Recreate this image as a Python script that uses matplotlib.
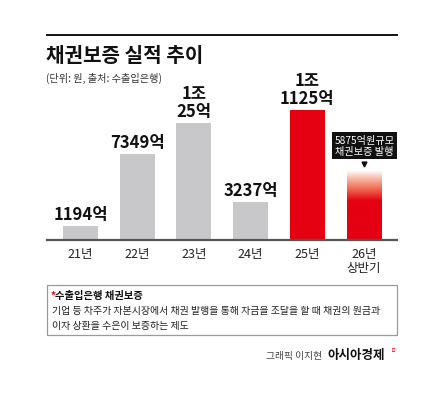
import numpy as np
import matplotlib.pyplot as plt
from matplotlib.colors import LinearSegmentedColormap
from matplotlib.patches import Rectangle
from matplotlib.lines import Line2D

plt.rcParams['font.family'] = ['Noto Sans CJK KR', 'DejaVu Sans']

# 데이터 (억원)
years = ["21년", "22년", "23년", "24년", "25년", "26년\n상반기"]
values = [1194, 7349, 10025, 3237, 11125, 5875]
value_labels = ["1194억", "7349억", "1조\n25억", "3237억", "1조\n1125억", ""]
note_text = "5875억원규모\n채권보증 발행"

W, H = 444, 402
fig = plt.figure(figsize=(W / 100, H / 100), dpi=100)
fig.patch.set_facecolor("white")


def fx(px):
    return px / W


def fy(py):
    return 1 - py / H


RED = "#e50012"
GRAY = "#c8c8ca"

# 상단 선 + 제목
fig.add_artist(Line2D([fx(47), fx(397)], [fy(36), fy(36)], color="#111111", lw=1.4))
fig.text(fx(46), fy(56), "채권보증 실적 추이", fontsize=14.5, fontweight="bold",
         va="center", ha="left", color="#111111")
fig.text(fx(46), fy(78), "(단위: 원, 출처: 수출입은행)", fontsize=7.3,
         va="center", ha="left", color="#333333")

# 막대 그래프
ax = fig.add_axes([fx(47), fy(241), fx(350), 141 / H])
scale = 0.0117  # px per 억
ax.set_ylim(0, 141 / scale)
step = 56.7
ax.set_xlim((47 - 80.5) / step, (397 - 80.5) / step)
x = np.arange(len(values))
bw = 35 / step

colors = [GRAY, GRAY, GRAY, GRAY, RED]
ax.bar(x[:5], values[:5], width=bw, color=colors, zorder=2)

# 26년 상반기: 아래는 진한 빨강, 위로 갈수록 흐려지는 막대
cmap = LinearSegmentedColormap.from_list("fade", [RED, "#ee5a45", "#f6a590", "#fff6f3"])
t = np.linspace(0, 1, 300).reshape(-1, 1)
grad = np.clip((t - 0.57) / 0.43, 0, 1)
ax.imshow(grad, cmap=cmap, vmin=0, vmax=1, origin="lower", aspect="auto",
          extent=[x[5] - bw / 2, x[5] + bw / 2, 0, values[5]], zorder=2)

for xi, v, lab in zip(x, values, value_labels):
    if lab:
        ax.text(xi, v + 250, lab, ha="center", va="bottom", fontsize=12,
                fontweight="bold", color="#111111", linespacing=1.0)

# 말풍선
ny = values[5] + 2200
ax.text(x[5] + 0.01, ny, note_text, ha="center", va="center", color="white",
        fontsize=7.3, linespacing=1.2,
        bbox=dict(boxstyle="square,pad=0.22", fc="#111111", ec="none"))
ax.plot([x[5]], [values[5] + 620], marker="v", color="#111111", markersize=3.5,
        zorder=3)

ax.set_xticks(x)
ax.set_xticklabels(years, fontsize=9, color="#222222", linespacing=1.15)
ax.tick_params(axis="x", length=0, pad=5)
ax.set_yticks([])
for s in ["top", "left", "right"]:
    ax.spines[s].set_visible(False)
ax.spines["bottom"].set_color("#555555")
ax.spines["bottom"].set_linewidth(1.6)
ax.set_facecolor("none")

# 설명 박스
fig.add_artist(Rectangle((fx(47), fy(336)), fx(350), 50 / H, fill=False,
                         ec="#9a9a9a", lw=0.9))
fig.text(fx(51), fy(296), "*", color=RED, fontsize=7, fontweight="bold",
         va="center", ha="left")
fig.text(fx(55), fy(296), "수출입은행 채권보증", color="#111111", fontsize=7.4,
         fontweight="bold", va="center", ha="left")
fig.text(fx(52), fy(311.5), "기업 등 차주가 자본시장에서 채권 발행을 통해 자금을 조달을 할 때 채권의 원금과",
         fontsize=7.15, color="#222222", va="center", ha="left")
fig.text(fx(52), fy(326), "이자 상환을 수은이 보증하는 제도",
         fontsize=7.15, color="#222222", va="center", ha="left")

# 출처
fig.text(fx(322), fy(356), "그래픽 이지현", fontsize=7, color="#444444",
         va="center", ha="right")
fig.text(fx(327), fy(356), "아시아경제", fontsize=9, fontweight="bold",
         color="#111111", va="center", ha="left")
fig.text(fx(391), fy(351), "ㅁ", fontsize=4, color=RED, va="center", ha="left")

fig.savefig("out.png", dpi=100, facecolor="white")
